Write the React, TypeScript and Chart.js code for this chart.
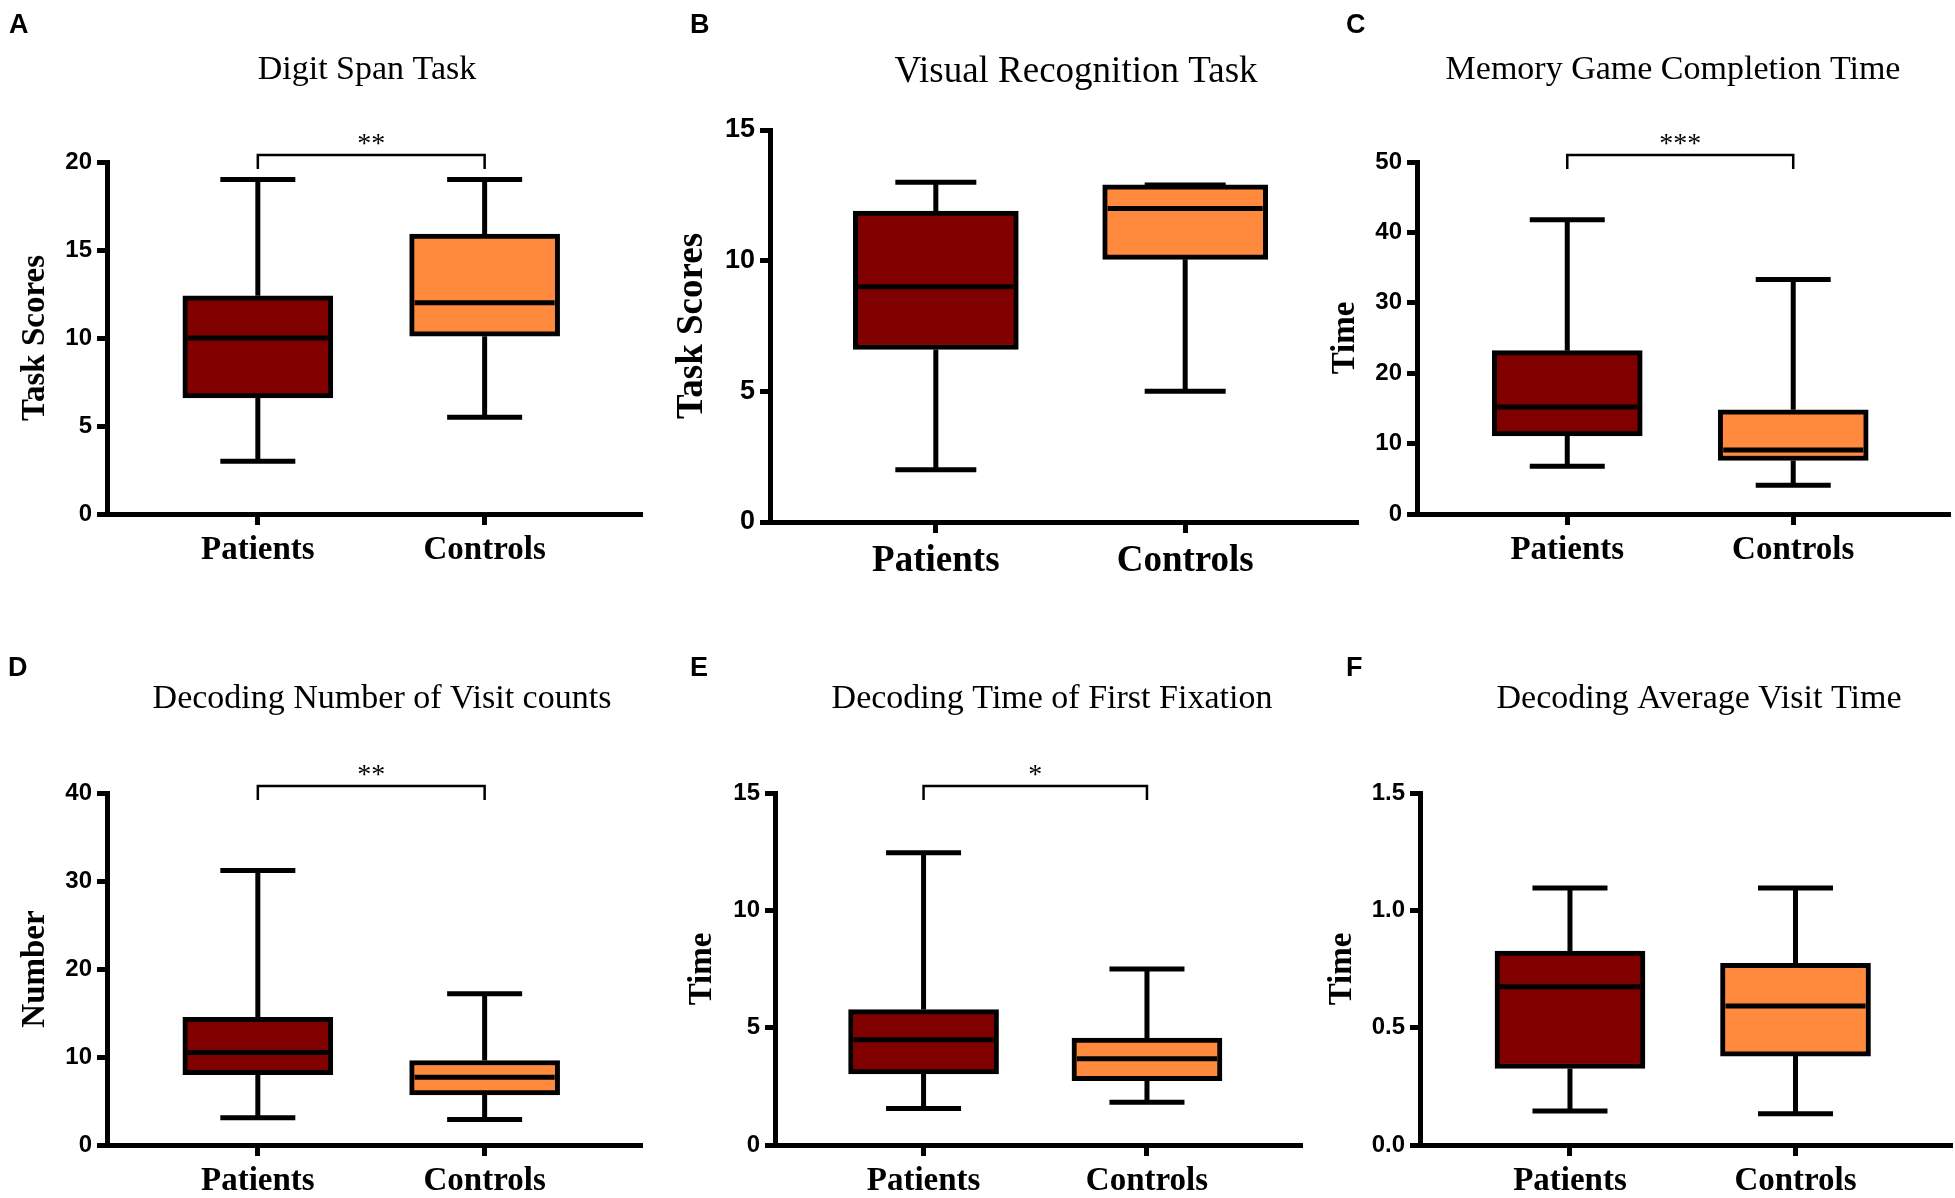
import React, { useEffect, useRef } from 'react';
import { Chart, registerables } from 'chart.js';

Chart.register(...registerables);

// ---------- data ----------
const groups = ['Patients', 'Controls'];
const panelLetters = ['A', 'B', 'C', 'D', 'E', 'F'];
const panelTitles = [
  'Digit Span Task',
  'Visual Recognition Task',
  'Memory Game Completion Time',
  'Decoding Number of Visit counts',
  'Decoding Time of First Fixation',
  'Decoding Average Visit Time',
];
const yAxisTitles = ['Task Scores', 'Task Scores', 'Time', 'Number', 'Time', 'Time'];
const yAxisMax = [20, 15, 50, 40, 15, 1.5];
const yAxisStep = [5, 5, 10, 10, 5, 0.5];
const yTickDecimals = [0, 0, 0, 0, 0, 1];
const significance = ['**', '', '***', '**', '*', ''];

// five-number summaries: [min, Q1, median, Q3, max]
const digitSpanPatients = [3.0, 6.6, 10.0, 12.4, 19.0];
const digitSpanControls = [5.5, 10.1, 12.0, 15.9, 19.0];
const visualRecogPatients = [2.0, 6.6, 9.0, 11.9, 13.0];
const visualRecogControls = [5.0, 10.05, 12.0, 12.9, 12.9];
const memoryGamePatients = [6.8, 11.1, 15.2, 23.2, 41.8];
const memoryGameControls = [4.1, 7.6, 9.1, 14.8, 33.3];
const visitCountPatients = [3.1, 8.0, 10.5, 14.5, 31.2];
const visitCountControls = [2.9, 5.7, 7.7, 9.6, 17.2];
const firstFixationPatients = [1.56, 3.03, 4.48, 5.77, 12.45];
const firstFixationControls = [1.82, 2.74, 3.68, 4.56, 7.5];
const avgVisitPatients = [0.145, 0.326, 0.674, 0.826, 1.095];
const avgVisitControls = [0.133, 0.379, 0.592, 0.774, 1.095];

const panelStats = [
  [digitSpanPatients, digitSpanControls],
  [visualRecogPatients, visualRecogControls],
  [memoryGamePatients, memoryGameControls],
  [visitCountPatients, visitCountControls],
  [firstFixationPatients, firstFixationControls],
  [avgVisitPatients, avgVisitControls],
];

const groupColors = ['#800000', '#FF8A3D'];

// ---------- layout (page pixels) ----------
type Layout = {
  cell: [number, number, number, number]; // left, top, width, height
  area: [number, number, number, number]; // left, top, right, bottom
  titleX: number; titleY: number; titleSize: number;
  letterX: number; letterY: number;
  tickSize: number; labelSize: number; labelPad: number;
  yTitleSize: number; yTitleX: number;
  boxW: number; capW: number;
};

const layouts: Layout[] = [
  { cell: [0, 0, 655, 600], area: [107, 162, 640, 514], titleX: 367, titleY: 79, titleSize: 34, letterX: 9, letterY: 33, tickSize: 24, labelSize: 33, labelPad: 6, yTitleSize: 33, yTitleX: 35, boxW: 150, capW: 75 },
  { cell: [655, 0, 715, 600], area: [770, 130, 1356, 522], titleX: 1076, titleY: 82, titleSize: 37, letterX: 690, letterY: 33, tickSize: 27, labelSize: 37, labelPad: 6, yTitleSize: 37, yTitleX: 692, boxW: 165, capW: 81 },
  { cell: [1300, 0, 655, 600], area: [1417, 162, 1948, 514], titleX: 1673, titleY: 79, titleSize: 34, letterX: 1346, letterY: 33, tickSize: 24, labelSize: 33, labelPad: 6, yTitleSize: 33, yTitleX: 1345, boxW: 150, capW: 75 },
  { cell: [0, 600, 655, 620], area: [107, 793, 640, 1145], titleX: 382, titleY: 708, titleSize: 34, letterX: 8, letterY: 676, tickSize: 24, labelSize: 33, labelPad: 6, yTitleSize: 33, yTitleX: 35, boxW: 150, capW: 75 },
  { cell: [655, 600, 655, 620], area: [775, 793, 1300, 1145], titleX: 1052, titleY: 708, titleSize: 34, letterX: 690, letterY: 676, tickSize: 24, labelSize: 33, labelPad: 6, yTitleSize: 33, yTitleX: 702, boxW: 150, capW: 75 },
  { cell: [1300, 600, 655, 620], area: [1420, 793, 1950, 1145], titleX: 1699, titleY: 708, titleSize: 34, letterX: 1346, letterY: 676, tickSize: 24, labelSize: 33, labelPad: 6, yTitleSize: 33, yTitleX: 1342, boxW: 150, capW: 75 },
];

const LW = 5;
const X_MIN = 0.335;
const X_MAX = 2.685;
const X_SCALE_H = 70;

function makeExtras(index: number) {
  const L = layouts[index];
  const cl = L.cell[0];
  const ct = L.cell[1];
  return {
    id: 'boxExtras' + index,
    afterDatasetsDraw(chart: any) {
      const ctx = chart.ctx;
      const x = chart.scales.x;
      const y = chart.scales.y;
      ctx.save();
      ctx.strokeStyle = '#000';
      ctx.lineWidth = LW;
      ctx.lineCap = 'butt';
      panelStats[index].forEach((s: number[], i: number) => {
        const cx = x.getPixelForValue(i + 1);
        const pMin = y.getPixelForValue(s[0]);
        const pQ1 = y.getPixelForValue(s[1]);
        const pMed = y.getPixelForValue(s[2]);
        const pQ3 = y.getPixelForValue(s[3]);
        const pMax = y.getPixelForValue(s[4]);
        ctx.beginPath();
        ctx.moveTo(cx, pQ3);
        ctx.lineTo(cx, pMax);
        ctx.moveTo(cx, pQ1);
        ctx.lineTo(cx, pMin);
        ctx.moveTo(cx - L.capW / 2, pMax);
        ctx.lineTo(cx + L.capW / 2, pMax);
        ctx.moveTo(cx - L.capW / 2, pMin);
        ctx.lineTo(cx + L.capW / 2, pMin);
        ctx.moveTo(cx - L.boxW / 2 + LW, pMed);
        ctx.lineTo(cx + L.boxW / 2 - LW, pMed);
        ctx.stroke();
      });
      ctx.restore();
    },
    afterDraw(chart: any) {
      const ctx = chart.ctx;
      const area = chart.chartArea;
      ctx.save();
      ctx.fillStyle = '#000';
      ctx.textBaseline = 'alphabetic';
      ctx.textAlign = 'left';
      ctx.font = 'bold 27px "Liberation Sans"';
      ctx.fillText(panelLetters[index], L.letterX - cl, L.letterY - ct);
      ctx.textAlign = 'center';
      ctx.font = `${L.titleSize}px "Liberation Serif"`;
      ctx.fillText(panelTitles[index], L.titleX - cl, L.titleY - ct);
      const sig = significance[index];
      if (sig) {
        const x1 = chart.scales.x.getPixelForValue(1);
        const x2 = chart.scales.x.getPixelForValue(2);
        const by = area.top - 7;
        ctx.strokeStyle = '#000';
        ctx.lineWidth = 2.5;
        ctx.beginPath();
        ctx.moveTo(x1, area.top + 7);
        ctx.lineTo(x1, by);
        ctx.lineTo(x2, by);
        ctx.lineTo(x2, area.top + 7);
        ctx.stroke();
        ctx.font = '28px "Liberation Serif"';
        ctx.fillText(sig, (x1 + x2) / 2, by - 3);
      }
      ctx.restore();
    },
  };
}

function Panel({ index }: { index: number }) {
  const ref = useRef<HTMLCanvasElement>(null);
  const L = layouts[index];
  const [cl, ct, cw, ch] = L.cell;

  useEffect(() => {
    const [al, at, ar, ab] = L.area;
    const axisGrid = (len: number) => ({
      display: true,
      drawOnChartArea: false,
      drawTicks: true,
      offset: false,
      tickLength: len,
      tickWidth: LW,
      lineWidth: LW,
      color: '#000',
    });
    const axisBorder = { display: true, width: LW, color: '#000' };
    const chart = new Chart(ref.current as HTMLCanvasElement, {
      type: 'bar',
      data: {
        datasets: [
          {
            data: panelStats[index].map((s, i) => ({ x: i + 1, y: [s[1], s[3]] })) as any,
            backgroundColor: groupColors,
            borderColor: '#000',
            borderWidth: LW,
            borderSkipped: false,
            barThickness: L.boxW,
          } as any,
        ],
      },
      options: {
        responsive: false,
        animation: false,
        events: [],
        layout: {
          padding: {
            left: 0,
            top: at - ct,
            right: cl + cw - ar,
            bottom: ct + ch - ab - X_SCALE_H,
          },
        },
        plugins: {
          legend: { display: false },
          tooltip: { enabled: false },
          title: { display: false },
        },
        scales: {
          x: {
            type: 'linear',
            min: X_MIN,
            max: X_MAX,
            offset: false,
            afterBuildTicks: (s: any) => {
              s.ticks = [{ value: 1 }, { value: 2 }];
            },
            afterFit: (s: any) => {
              s.height = X_SCALE_H;
            },
            ticks: {
              autoSkip: false,
              maxRotation: 0,
              padding: L.labelPad,
              color: '#000',
              font: { family: 'Liberation Serif', weight: 'bold', size: L.labelSize },
              callback: (_v: any, i: number) => groups[i],
            },
            grid: axisGrid(11),
            border: axisBorder,
          },
          y: {
            type: 'linear',
            min: 0,
            max: yAxisMax[index],
            afterFit: (s: any) => {
              s.width = al - cl;
            },
            ticks: {
              stepSize: yAxisStep[index],
              padding: 5,
              color: '#000',
              font: { family: 'Liberation Sans', weight: 'bold', size: L.tickSize },
              callback: (v: any) => Number(v).toFixed(yTickDecimals[index]),
            },
            grid: axisGrid(10),
            border: axisBorder,
            title: {
              display: true,
              text: yAxisTitles[index],
              color: '#000',
              font: { family: 'Liberation Serif', weight: 'bold', size: L.yTitleSize },
              padding: { top: L.yTitleX - cl - 0.6 * L.yTitleSize, bottom: 0 },
            },
          },
        },
      } as any,
      plugins: [makeExtras(index)],
    });
    return () => chart.destroy();
  }, []);

  return (
    <canvas
      ref={ref}
      width={cw}
      height={ch}
      style={{ position: 'absolute', left: cl, top: ct, width: cw, height: ch }}
    />
  );
}

export default function App() {
  return (
    <div
      style={{
        position: 'absolute',
        left: 0,
        top: 0,
        width: 1955,
        height: 1198,
        background: '#fff',
        overflow: 'hidden',
      }}
    >
      {layouts.map((_, i) => (
        <Panel key={i} index={i} />
      ))}
    </div>
  );
}
